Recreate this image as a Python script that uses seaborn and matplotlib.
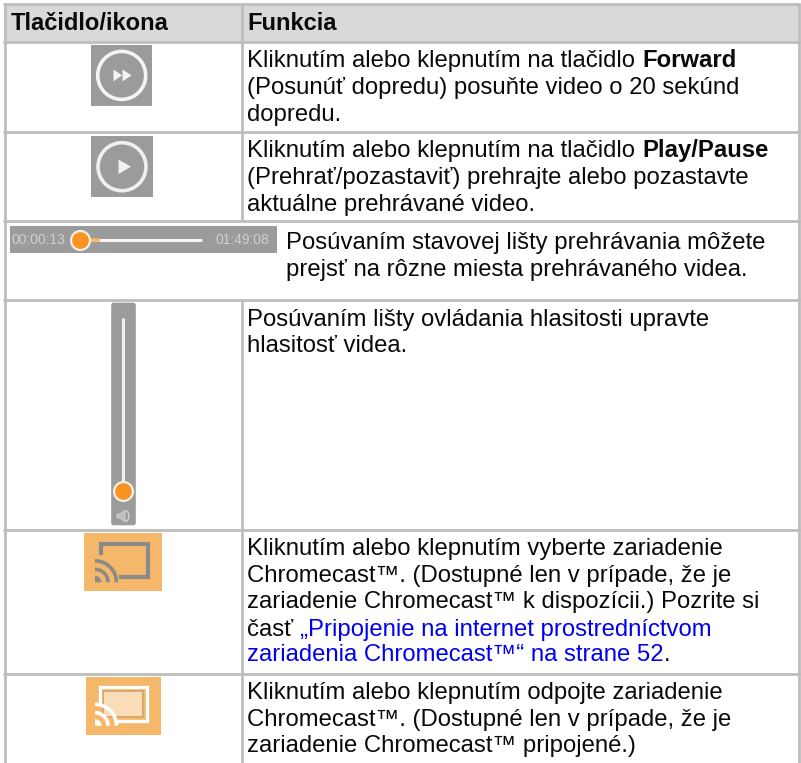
"""
Tabuľka tlačidiel prehrávača - Tlačidlo/ikona a Funkcia
"""

import matplotlib
matplotlib.use("Agg")
import matplotlib.pyplot as plt
from matplotlib.patches import Arc, Circle, FancyBboxPatch, Polygon, Rectangle, Wedge
import seaborn as sns

# Texty
HEADERS = ["Tlačidlo/ikona", "Funkcia"]
TIME_START = "00:00:13"
TIME_END = "01:49:08"

ROW_FORWARD = [
    [("Kliknutím alebo klepnutím na tlačidlo ", "n"), ("Forward", "b")],
    [("(Posunúť dopredu) posuňte video o 20 sekúnd", "n")],
    [("dopredu.", "n")],
]
ROW_PLAY = [
    [("Kliknutím alebo klepnutím na tlačidlo ", "n"), ("Play/Pause", "b")],
    [("(Prehrať/pozastaviť) prehrajte alebo pozastavte", "n")],
    [("aktuálne prehrávané video.", "n")],
]
ROW_SEEK = [
    [("Posúvaním stavovej lišty prehrávania môžete", "n")],
    [("prejsť na rôzne miesta prehrávaného videa.", "n")],
]
ROW_VOLUME = [
    [("Posúvaním lišty ovládania hlasitosti upravte", "n")],
    [("hlasitosť videa.", "n")],
]
ROW_CAST = [
    [("Kliknutím alebo klepnutím vyberte zariadenie", "n")],
    [("Chromecast™. (Dostupné len v prípade, že je", "n")],
    [("zariadenie Chromecast™ k dispozícii.) Pozrite si", "n")],
    [("časť ", "n"), ("„Pripojenie na internet prostredníctvom", "l")],
    [("zariadenia Chromecast™“ na strane 52", "l"), (".", "n")],
]
ROW_DISCONNECT = [
    [("Kliknutím alebo klepnutím odpojte zariadenie", "n")],
    [("Chromecast™. (Dostupné len v prípade, že je", "n")],
    [("zariadenie Chromecast™ pripojené.)", "n")],
]

# Rozloženie v pixeloch
W, H = 801, 763
FS = 17.22
GRID = "#bdbdbd"
ICON = "#9b9b9b"
ORANGE = "#f7931e"
CAST_BG = "#f5b86a"
COLORS = {"n": "#0a0a0a", "b": "#0a0a0a", "l": "#0000ee"}

sns.set_theme(style="white")
plt.rcParams["font.family"] = ["Liberation Sans", "DejaVu Sans"]

fig = plt.figure(figsize=(W / 100, H / 100), dpi=100)
ax = fig.add_axes([0, 0, 1, 1])
ax.set_xlim(0, W)
ax.set_ylim(H, 0)
ax.axis("off")
sns.despine(ax=ax, left=True, bottom=True)


def write_lines(x, baselines, lines):
    renderer = fig.canvas.get_renderer()
    for y, runs in zip(baselines, lines):
        cx = x
        for txt, kind in runs:
            t = ax.text(cx, y, txt, fontsize=FS, color=COLORS[kind], va="baseline", ha="left",
                        fontweight="bold" if kind == "b" else "normal")
            # medzery na konci sa do rozmeru nerátajú, preto meranie so znakom navyše
            probe = ax.text(0, 0, txt + "|", fontsize=FS, fontweight=t.get_fontweight())
            bar = ax.text(0, 0, "|", fontsize=FS, fontweight=t.get_fontweight())
            cx += probe.get_window_extent(renderer).width - bar.get_window_extent(renderer).width
            probe.remove()
            bar.remove()


def knob(x, y):
    sns.scatterplot(x=[x], y=[y], ax=ax, s=185, color=ORANGE, edgecolor="#f4f0e8",
                    linewidth=1.6, legend=False, zorder=5, clip_on=False)


def cast_arcs(cx, cy, color, lw):
    ax.add_patch(Wedge((cx, cy), 6.5, 270, 360, color=color, lw=0))
    ax.add_patch(Arc((cx, cy), 26, 26, theta1=270, theta2=360, color=color, lw=lw))
    ax.add_patch(Arc((cx, cy), 43, 43, theta1=270, theta2=360, color=color, lw=lw))


# Hlavička a mriežka
ax.add_patch(Rectangle((5, 5), 793, 36, color="#d9d9d9", lw=0))
ax.hlines([4.2, 41.7, 132.2, 221, 299.5, 529.5, 673.8], 3.3, 799.7, color=GRID, lw=2)
ax.vlines([4.6, 798.5], 3.3, H, color=GRID, lw=2)
ax.vlines(242.3, 3.3, 221, color=GRID, lw=2)
ax.vlines(242.3, 299.5, H, color=GRID, lw=2)

ax.text(11, 29.7, HEADERS[0], fontsize=17.1, fontweight="bold", color="#0a0a0a", va="baseline")
ax.text(247, 29.7, HEADERS[1], fontsize=17.1, fontweight="bold", color="#0a0a0a", va="baseline")

# Texty riadkov
write_lines(247.3, [67.3, 93.7, 120.7], ROW_FORWARD)
write_lines(247.3, [156.7, 183.7, 210.7], ROW_PLAY)
write_lines(285.7, [248.7, 275.7], ROW_SEEK)
write_lines(247.3, [325.7, 352], ROW_VOLUME)
write_lines(247.3, [555.2, 581.7, 608.4, 635.7, 661.4], ROW_CAST)
write_lines(247.3, [699.2, 725.7, 752.4], ROW_DISCONNECT)

# Forward
ax.add_patch(Rectangle((91, 45), 61, 60.7, color=ICON, lw=0))
ax.add_patch(Circle((121.7, 75.4), 24, fc="none", ec="#f4f4f4", lw=2.6))
ax.add_patch(Polygon([(113.5, 69.5), (122, 75.4), (113.5, 81.3)], color="#f4f4f4", lw=0))
ax.add_patch(Polygon([(122.5, 69.5), (131.5, 75.4), (122.5, 81.3)], color="#f4f4f4", lw=0))

# Play
ax.add_patch(Rectangle((91, 136), 62, 60.7, color=ICON, lw=0))
ax.add_patch(Circle((122, 166.7), 24, fc="none", ec="#f0f0f0", lw=2.6))
ax.add_patch(Polygon([(118.5, 159.5), (131, 166.7), (118.5, 174)], color="#f0f0f0", lw=0))

# Stavová lišta
ax.add_patch(Rectangle((10, 226), 267, 26.7, color=ICON, lw=0))
ax.text(12, 243.8, TIME_START, fontsize=10.0, color="#d0d0d0", va="baseline")
ax.text(215, 243.8, TIME_END, fontsize=10.0, color="#d0d0d0", va="baseline")
ax.hlines(239.8, 90, 202, color="#f4f4f4", lw=2.2)
ax.hlines(239.8, 91, 100, color="#f7b46a", lw=2.6, zorder=3)
knob(79.7, 239.5)

# Hlasitosť
ax.add_patch(FancyBboxPatch((112, 303.5), 23, 221, boxstyle="round,pad=0.8,rounding_size=2.5",
                            color=ICON, lw=0))
ax.vlines(123, 318, 484, color="#f0f0f0", lw=2.2)
knob(123, 490.7)
ax.add_patch(Polygon([(117, 514), (120, 514), (125, 510), (125, 522), (120, 518), (117, 518)],
                     fc="#bdbdbd", ec="#d4d4d4", lw=0.6))
ax.add_patch(Arc((125, 516), 8, 11, theta1=280, theta2=80, color="#d4d4d4", lw=1))

# Chromecast - nepripojené
ax.add_patch(Rectangle((84, 532.7), 78, 58.3, color=CAST_BG, lw=0))
ax.plot([101, 101, 147.5, 147.5, 119], [555, 543.8, 543.8, 577.3, 577.3], color="#8a8a88",
        lw=3, solid_joinstyle="miter", solid_capstyle="butt")
cast_arcs(95, 582.3, "#8a8a88", 2.6)

# Chromecast - pripojené
ax.add_patch(Rectangle((86, 677), 75, 58, color=CAST_BG, lw=0))
ax.add_patch(Rectangle((103, 691), 40, 26, fc="#f9dcb8", ec="#dda566", lw=1.4))
ax.plot([100, 100, 147, 147, 117], [703, 687.3, 687.3, 720.5, 720.5], color="white",
        lw=2.4, solid_joinstyle="miter", solid_capstyle="butt")
cast_arcs(95, 725.7, "white", 2.6)

fig.savefig("out.png", dpi=100)
